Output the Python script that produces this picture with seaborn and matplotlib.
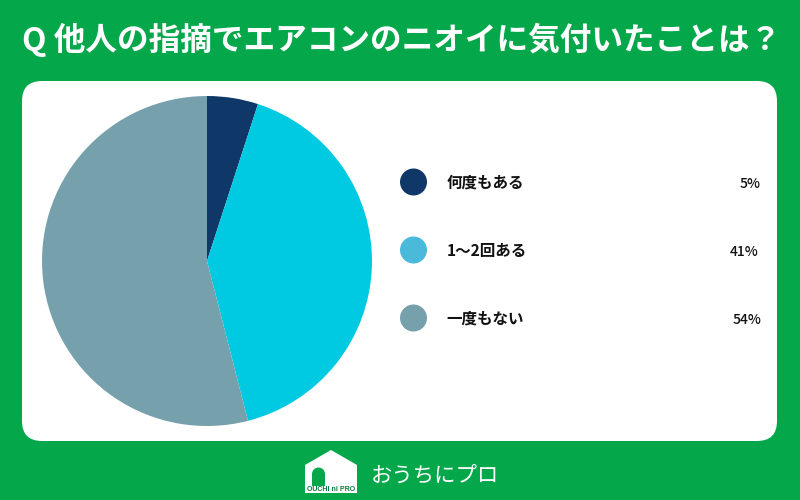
import matplotlib

matplotlib.use("Agg")
import matplotlib.pyplot as plt
from matplotlib.patches import FancyBboxPatch, Polygon, Rectangle, Wedge
import pandas as pd
import seaborn as sns

# data
labels = ["何度もある", "1〜2回ある", "一度もない"]
values = [5, 41, 54]
pct_labels = ["5%", "41%", "54%"]
pie_colors = ["#0f3767", "#00c9e2", "#76a1ac"]
dot_colors = ["#0f3767", "#4bb9da", "#76a1ac"]
title = "Q 他人の指摘でエアコンのニオイに気付いたことは？"

GREEN = "#04a84a"

sns.set_theme(style="white")
plt.rcParams["font.family"] = ["Noto Sans CJK JP", "DejaVu Sans"]

fig = plt.figure(figsize=(8, 5), dpi=100, facecolor=GREEN)

# overlay in pixel coordinates for the card, legend and logo
bg = fig.add_axes([0, 0, 1, 1])

card = FancyBboxPatch(
    (22 + 20, 81 + 20), 755 - 40, 360 - 40,
    boxstyle="round,pad=20,rounding_size=20",
    facecolor="white", edgecolor="none",
)
bg.add_patch(card)

bg.text(402, 39.5, title, color="white", fontsize=22.8, fontweight="bold",
        ha="center", va="center")

# legend rows
legend_df = pd.DataFrame({
    "x": [413.5, 413.5, 413.5],
    "y": [182, 250, 318],
    "label": labels,
})
sns.scatterplot(
    data=legend_df, x="x", y="y", hue="label", palette=dot_colors,
    s=378, linewidth=0, legend=False, ax=bg,
)
bg.set_xlim(0, 800)
bg.set_ylim(500, 0)
bg.axis("off")

pct_right = [761, 758, 761]
for y, lab, pct, right in zip(legend_df["y"], labels, pct_labels, pct_right):
    bg.text(446.5, y + 1, lab, fontsize=11.2, fontweight="bold", color="#111111",
            ha="left", va="center")
    bg.text(right, y + 1.5, pct, fontsize=10, fontweight="medium", color="#111111",
            ha="right", va="center")

# logo
bg.add_patch(Polygon([(305, 493), (305, 465), (331, 450), (357, 465), (357, 493)],
                     closed=True, facecolor="white", edgecolor="none"))
bg.add_patch(Rectangle((312, 474), 13, 12, facecolor=GREEN, edgecolor="none"))
bg.add_patch(Wedge((318.5, 474), 6.5, 180, 360, facecolor=GREEN, edgecolor="none"))
bg.text(331, 489.5, "OUCHI ni PRO", fontsize=5, color="#04803a", fontweight="bold",
        ha="center", va="center", family="Liberation Sans")
bg.text(371, 477, "おうちにプロ", fontsize=15.4, color="white", fontweight="normal",
        ha="left", va="center")

# pie
ax = fig.add_axes([42 / 800, 74 / 500, 330 / 800, 330 / 500])
ax.pie(values, colors=pie_colors, startangle=90, counterclock=False, radius=1,
       wedgeprops={"linewidth": 0})
ax.set_xlim(-1, 1)
ax.set_ylim(-1, 1)
ax.set_aspect("equal")

fig.savefig("out.png", dpi=100, facecolor=GREEN)
